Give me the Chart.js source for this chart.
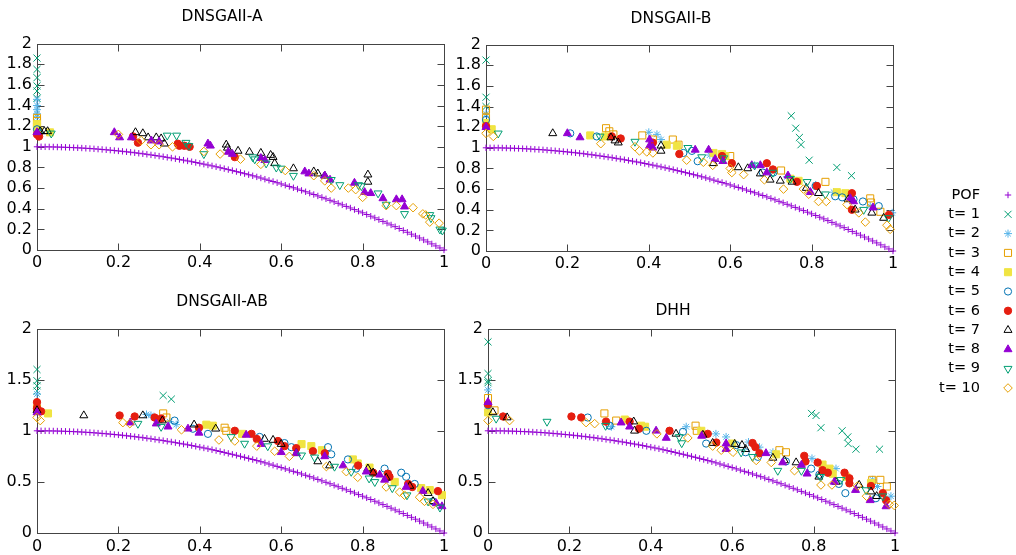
<!DOCTYPE html>
<html>
<head>
<meta charset="utf-8">
<script src="https://cdn.jsdelivr.net/npm/chart.js@4.4.1/dist/chart.umd.min.js"></script>
<style>
  body { margin: 0; background: #fff; width: 1016px; height: 555px; overflow: hidden; position: relative; }
  canvas { position: absolute; }
</style>
</head>
<body>
<canvas id="cA" width="481" height="275" style="left:0;top:0"></canvas>
<canvas id="cB" width="481" height="275" style="left:449px;top:0"></canvas>
<canvas id="cAB" width="481" height="270" style="left:0;top:285px"></canvas>
<canvas id="cDHH" width="481" height="270" style="left:451px;top:285px"></canvas>
<canvas id="cLeg" width="116" height="240" style="left:900px;top:170px"></canvas>
<script>
// ---------- data ----------
const SERIES_NAMES = ['POF', 't= 1', 't= 2', 't= 3', 't= 4', 't= 5', 't= 6', 't= 7', 't= 8', 't= 9', 't= 10'];
const X_TICKS = [0, 0.2, 0.4, 0.6, 0.8, 1];

// Pareto optimal front
const POF_X = [0,0.01,0.02,0.03,0.04,0.05,0.06,0.07,0.08,0.09,0.1,0.11,0.12,0.13,0.14,0.15,0.16,0.17,0.18,0.19,
  0.2,0.21,0.22,0.23,0.24,0.25,0.26,0.27,0.28,0.29,0.3,0.31,0.32,0.33,0.34,0.35,0.36,0.37,0.38,0.39,
  0.4,0.41,0.42,0.43,0.44,0.45,0.46,0.47,0.48,0.49,0.5,0.51,0.52,0.53,0.54,0.55,0.56,0.57,0.58,0.59,
  0.6,0.61,0.62,0.63,0.64,0.65,0.66,0.67,0.68,0.69,0.7,0.71,0.72,0.73,0.74,0.75,0.76,0.77,0.78,0.79,
  0.8,0.81,0.82,0.83,0.84,0.85,0.86,0.87,0.88,0.89,0.9,0.91,0.92,0.93,0.94,0.95,0.96,0.97,0.98,0.99,1];
const POF_Y = [1,0.9999,0.9996,0.9991,0.9984,0.9975,0.9964,0.9951,0.9936,0.9919,0.99,0.9879,0.9856,0.9831,0.9804,0.9775,0.9744,0.9711,0.9676,0.9639,
  0.96,0.9559,0.9516,0.9471,0.9424,0.9375,0.9324,0.9271,0.9216,0.9159,0.91,0.9039,0.8976,0.8911,0.8844,0.8775,0.8704,0.8631,0.8556,0.8479,
  0.84,0.8319,0.8236,0.8151,0.8064,0.7975,0.7884,0.7791,0.7696,0.7599,0.75,0.7399,0.7296,0.7191,0.7084,0.6975,0.6864,0.6751,0.6636,0.6519,
  0.64,0.6279,0.6156,0.6031,0.5904,0.5775,0.5644,0.5511,0.5376,0.5239,0.51,0.4959,0.4816,0.4671,0.4524,0.4375,0.4224,0.4071,0.3916,0.3759,
  0.36,0.3439,0.3276,0.3111,0.2944,0.2775,0.2604,0.2431,0.2256,0.2079,0.19,0.1719,0.1536,0.1351,0.1164,0.0975,0.0784,0.0591,0.0396,0.0199,0];

// DNSGAII-A
const A_t1 = [[0,1.86],[0,1.75],[0,1.67],[0,1.59],[0,1.54],[0,1.47],[0,1.19],[0,1.16]];
const A_t2 = [[0,1.46],[0,1.4],[0,1.36],[0,1.32],[0,1.29],[0.005,1.16]];
const A_t3 = [[0,1.28],[0,1.25],[0,1.22],[0,1.2]];
const A_t4 = [[0,1.22],[0,1.18],[0.005,1.15],[0.032,1.14]];
const A_t5 = [[0,1.17],[0.005,1.13]];
const A_t6 = [[0,1.12],[0.005,1.1],[0.236,1.1],[0.248,1.04],[0.346,1.03],[0.35,1.01],[0.362,1.01],[0.375,1.0],[0.486,0.9]];
const A_t7 = [[0.008,1.15],[0.018,1.15],[0.026,1.15],[0.242,1.14],[0.26,1.13],[0.273,1.09],[0.293,1.09],[0.305,1.08],[0.313,1.03],
  [0.465,1.02],[0.468,0.99],[0.494,0.96],[0.522,0.95],[0.55,0.94],[0.574,0.92],[0.58,0.9],[0.584,0.84],[0.63,0.79],[0.68,0.76],
  [0.69,0.74],[0.707,0.72],[0.813,0.73],[0.813,0.66]];
const A_t8 = [[0,1.14],[0.19,1.14],[0.203,1.09],[0.232,1.09],[0.281,1.06],[0.3,1.05],[0.42,1.03],[0.426,1.01],[0.47,0.95],[0.48,0.93],
  [0.55,0.89],[0.56,0.87],[0.658,0.76],[0.668,0.74],[0.707,0.72],[0.72,0.68],[0.78,0.65],[0.805,0.56],[0.82,0.55],[0.85,0.5],
  [0.883,0.49],[0.897,0.49],[0.903,0.42]];
const A_t9 = [[0.035,1.13],[0.32,1.11],[0.343,1.11],[0.366,1.04],[0.373,1.01],[0.41,0.93],[0.53,0.9],[0.535,0.88],[0.563,0.84],
  [0.588,0.8],[0.6,0.79],[0.63,0.72],[0.723,0.68],[0.744,0.63],[0.79,0.63],[0.797,0.62],[0.838,0.55],[0.858,0.44],[0.903,0.35],
  [0.965,0.34],[0.968,0.31],[0.99,0.2],[0.996,0.19]];
const A_t10 = [[0.2,1.12],[0.256,1.06],[0.28,1.02],[0.3,1.02],[0.333,1.0],[0.41,0.955],[0.45,0.93],[0.5,0.88],[0.55,0.83],[0.61,0.77],
  [0.68,0.72],[0.707,0.67],[0.723,0.6],[0.765,0.6],[0.783,0.585],[0.8,0.51],[0.858,0.43],[0.883,0.43],[0.924,0.41],[0.948,0.35],
  [0.955,0.34],[0.965,0.27],[0.988,0.26]];

// DNSGAII-B
const B_t1 = [[0,1.85],[0,1.49],[0,1.4],[0.75,1.31],[0.761,1.19],[0.77,1.1],[0.774,1.03],[0.794,0.88],[0.862,0.81],[0.898,0.73]];
const B_t2 = [[0,1.33],[0.4,1.15],[0.42,1.13],[0.43,1.08],[0.55,0.93],[0.66,0.83],[0.74,0.72],[0.81,0.64],[0.854,0.57],[0.944,0.435],[0.998,0.37]];
const B_t3 = [[0,1.37],[0,1.29],[0.295,1.19],[0.303,1.16],[0.313,1.13],[0.384,1.12],[0.41,1.08],[0.459,1.08],[0.473,1.03],[0.6,0.92],
  [0.725,0.78],[0.834,0.67],[0.944,0.51],[0.946,0.47],[0.969,0.38]];
const B_t4 = [[0,1.24],[0.014,1.18],[0.256,1.12],[0.293,1.11],[0.444,1.03],[0.469,1.02],[0.559,0.95],[0.58,0.94],[0.588,0.92],
  [0.748,0.7],[0.768,0.68],[0.862,0.57],[0.883,0.56]];
const B_t5 = [[0,1.27],[0.207,1.14],[0.272,1.11],[0.485,0.95],[0.506,0.97],[0.52,0.87],[0.68,0.76],[0.706,0.76],[0.81,0.63],
  [0.858,0.53],[0.875,0.52],[0.903,0.5],[0.926,0.48],[0.965,0.435]];
const B_t6 = [[0,1.21],[0.309,1.11],[0.331,1.09],[0.41,1.05],[0.475,0.94],[0.58,0.92],[0.604,0.85],[0.69,0.85],[0.705,0.79],
  [0.764,0.67],[0.813,0.63],[0.899,0.56],[0.899,0.4],[0.99,0.35]];
const B_t7 = [[0.164,1.14],[0.307,1.1],[0.317,1.07],[0.325,1.05],[0.43,1.02],[0.43,0.97],[0.559,0.85],[0.62,0.81],[0.643,0.8],
  [0.674,0.75],[0.698,0.69],[0.723,0.68],[0.752,0.67],[0.787,0.61],[0.817,0.56],[0.89,0.5],[0.907,0.4],[0.948,0.37],[0.977,0.32]];
const B_t8 = [[0,1.2],[0.2,1.14],[0.231,1.1],[0.402,1.08],[0.402,1.02],[0.41,1.0],[0.514,0.98],[0.547,0.98],[0.563,0.89],[0.582,0.87],
  [0.653,0.83],[0.674,0.83],[0.69,0.76],[0.742,0.73],[0.797,0.57],[0.895,0.51],[0.903,0.48],[0.951,0.42]];
const B_t9 = [[0.03,1.14],[0.28,1.11],[0.366,1.06],[0.496,1.0],[0.53,0.91],[0.584,0.9],[0.66,0.83],[0.705,0.76],[0.748,0.7],
  [0.789,0.67],[0.834,0.55],[0.928,0.4],[0.989,0.32]];
const B_t10 = [[0,1.14],[0.018,1.11],[0.282,1.04],[0.366,1.01],[0.377,0.97],[0.395,0.96],[0.41,0.95],[0.493,0.88],[0.534,0.86],
  [0.557,0.83],[0.6,0.8],[0.604,0.76],[0.633,0.74],[0.684,0.69],[0.731,0.6],[0.78,0.6],[0.793,0.55],[0.817,0.48],[0.836,0.48],
  [0.887,0.45],[0.916,0.37],[0.932,0.28],[0.985,0.25],[0.993,0.21]];

// DNSGAII-AB
const AB_t1 = [[0,1.6],[0,1.49],[0,1.44],[0,1.39],[0.31,1.345],[0.33,1.31]];
const AB_t2 = [[0,1.36],[0.269,1.16],[0.28,1.15],[0.326,1.09],[0.342,1.06]];
const AB_t3 = [[0,1.22],[0.31,1.17],[0.318,1.13],[0.461,1.03],[0.465,1.0]];
const AB_t4 = [[0.027,1.17],[0.416,1.06],[0.432,1.05],[0.504,0.97],[0.65,0.87],[0.674,0.85],[0.7,0.81],[0.776,0.72],[0.788,0.68],
  [0.817,0.64],[0.879,0.5],[0.944,0.44],[0.965,0.42],[0.995,0.37]];
const AB_t5 = [[0.338,1.1],[0.383,1.02],[0.42,0.97],[0.547,0.94],[0.608,0.88],[0.625,0.84],[0.715,0.84],[0.723,0.77],[0.764,0.72],
  [0.784,0.63],[0.854,0.63],[0.862,0.58],[0.895,0.59],[0.907,0.55],[0.928,0.48],[0.973,0.31]];
const AB_t6 = [[0,1.28],[0,1.22],[0.01,1.19],[0.203,1.15],[0.24,1.14],[0.289,1.13],[0.305,1.12],[0.398,1.03],[0.486,1.0],[0.527,0.97],
  [0.54,0.92],[0.592,0.9],[0.608,0.85],[0.637,0.83],[0.678,0.8],[0.707,0.78],[0.789,0.66],[0.826,0.59],[0.862,0.58],[0.866,0.55],
  [0.912,0.48],[0.922,0.45],[0.985,0.41]];
const AB_t7 = [[0,1.2],[0.115,1.15],[0.26,1.15],[0.308,1.1],[0.386,1.06],[0.439,1.02],[0.559,0.92],[0.58,0.91],[0.6,0.87],[0.637,0.78],
  [0.69,0.7],[0.719,0.66],[0.813,0.63],[0.826,0.59],[0.858,0.54],[0.916,0.46],[0.961,0.39],[0.973,0.31]];
const AB_t8 = [[0,1.18],[0.229,1.08],[0.293,1.07],[0.322,1.04],[0.371,1.02],[0.398,0.98],[0.514,0.96],[0.551,0.87],[0.6,0.79],
  [0.637,0.78],[0.707,0.75],[0.752,0.66],[0.809,0.6],[0.842,0.57],[0.854,0.52],[0.907,0.45],[0.948,0.41],[0.981,0.29],[0.995,0.26]];
const AB_t9 = [[0.248,1.07],[0.305,1.04],[0.477,0.94],[0.51,0.875],[0.567,0.85],[0.65,0.76],[0.682,0.74],[0.731,0.65],[0.772,0.6],
  [0.816,0.535],[0.83,0.5],[0.873,0.44],[0.909,0.37],[0.961,0.31],[0.99,0.25]];
const AB_t10 = [[0,1.13],[0.008,1.1],[0.211,1.08],[0.228,1.07],[0.355,1.01],[0.447,0.91],[0.486,0.9],[0.54,0.85],[0.584,0.8],
  [0.62,0.75],[0.711,0.65],[0.76,0.6],[0.788,0.545],[0.858,0.45],[0.891,0.4],[0.903,0.37],[0.94,0.35],[0.952,0.31],[0.973,0.28]];

// DHH
const D_t1 = [[0,1.87],[0,1.56],[0,1.49],[0,1.47],[0.795,1.17],[0.806,1.15],[0.818,1.03],[0.87,1.0],[0.884,0.94],[0.885,0.875],
  [0.904,0.82],[0.962,0.82]];
const D_t2 = [[0,1.4],[0.303,1.04],[0.487,1.04],[0.54,0.97],[0.56,0.97],[0.585,0.94],[0.64,0.89],[0.667,0.84],[0.7,0.79],[0.796,0.73],
  [0.855,0.63],[0.945,0.52],[0.957,0.455],[0.99,0.36]];
const D_t3 = [[0,1.32],[0.016,1.2],[0.286,1.17],[0.315,1.1],[0.51,1.05],[0.513,1.0],[0.716,0.81],[0.732,0.79],[0.944,0.52],
  [0.964,0.52],[0.98,0.455]];
const D_t4 = [[0,1.18],[0.336,1.11],[0.376,1.05],[0.386,1.04],[0.524,1.0],[0.6,0.875],[0.708,0.77],[0.822,0.67],[0.839,0.63],
  [0.847,0.58],[0.88,0.55],[0.941,0.49]];
const D_t5 = [[0,1.25],[0.245,1.13],[0.299,1.05],[0.389,1.0],[0.479,0.99],[0.536,0.875],[0.61,0.86],[0.633,0.79],[0.663,0.745],
  [0.732,0.7],[0.794,0.63],[0.814,0.57],[0.862,0.48],[0.878,0.39],[0.953,0.34]];
const D_t6 = [[0,1.26],[0.037,1.14],[0.205,1.14],[0.229,1.13],[0.29,1.09],[0.348,1.09],[0.371,1.02],[0.446,1.0],[0.54,0.97],
  [0.561,0.885],[0.65,0.88],[0.657,0.84],[0.667,0.78],[0.777,0.755],[0.78,0.7],[0.81,0.69],[0.822,0.615],[0.835,0.59],[0.876,0.59],
  [0.888,0.535],[0.888,0.486],[0.941,0.46],[0.97,0.39],[0.978,0.32]];
const D_t7 = [[0.012,1.18],[0.047,1.13],[0.358,1.09],[0.36,1.0],[0.462,0.97],[0.528,0.96],[0.552,0.88],[0.606,0.87],[0.624,0.86],
  [0.633,0.82],[0.7,0.735],[0.728,0.71],[0.757,0.69],[0.813,0.55],[0.855,0.5],[0.912,0.47],[0.941,0.405],[0.955,0.36]];
const D_t8 = [[0,1.28],[0.327,1.08],[0.348,1.04],[0.413,1.0],[0.438,0.93],[0.525,0.95],[0.585,0.875],[0.585,0.82],[0.683,0.78],
  [0.724,0.69],[0.77,0.665],[0.784,0.58],[0.851,0.5],[0.903,0.42],[0.939,0.32],[0.978,0.26]];
const D_t9 = [[0.02,1.12],[0.145,1.09],[0.289,1.05],[0.47,0.94],[0.476,0.88],[0.622,0.79],[0.65,0.745],[0.712,0.61],[0.77,0.61],
  [0.817,0.55],[0.867,0.52],[0.929,0.42],[0.97,0.36]];
const D_t10 = [[0,1.1],[0.053,1.1],[0.241,1.08],[0.262,1.07],[0.415,0.97],[0.491,0.93],[0.552,0.85],[0.573,0.81],[0.602,0.79],
  [0.659,0.71],[0.696,0.69],[0.753,0.61],[0.818,0.47],[0.845,0.47],[0.908,0.46],[0.93,0.36],[0.986,0.28],[0.998,0.27]];

// ---------- styles ----------
const COLORS = ['#9400D3', '#009E73', '#56B4E9', '#E69F00', '#F0E442', '#0072B2', '#E51E10', '#000000', '#9400D3', '#009E73', '#E69F00'];
const MARKERS = [
  { style: 'cross', r: 3.2, fill: false },
  { style: 'crossRot', r: 5, fill: false },
  { style: 'star', r: 4, fill: false },
  { style: 'rect', r: 5, fill: false },
  { style: 'rect', r: 5, fill: true },
  { style: 'circle', r: 3.6, fill: false },
  { style: 'circle', r: 3.7, fill: true },
  { style: 'triangle', r: 4.6, fill: false },
  { style: 'triangle', r: 4.6, fill: true },
  { style: 'triangle', r: 4.6, fill: false, rot: 180 },
  { style: 'rectRot', r: 4.3, fill: false }
];
const FONT = '"DejaVu Sans", Verdana, sans-serif';

Chart.defaults.font.family = FONT;
Chart.defaults.font.size = 16;
Chart.defaults.color = '#000';

function pts(list) {
  return list.map(p => ({ x: p[0], y: p[1] }));
}

function tickText(v) {
  return String(Number(Number(v).toFixed(2)));
}

function buildDatasets(series) {
  return series.map((data, i) => {
    const m = MARKERS[i];
    return {
      label: SERIES_NAMES[i],
      data: data,
      showLine: false,
      clip: false,
      order: series.length - i,
      pointStyle: m.style,
      pointRadius: m.r,
      pointHoverRadius: m.r,
      pointRotation: m.rot || 0,
      pointBorderWidth: 1,
      pointBorderColor: COLORS[i],
      pointBackgroundColor: m.fill ? COLORS[i] : 'rgba(0,0,0,0)',
      borderColor: COLORS[i],
      backgroundColor: m.fill ? COLORS[i] : 'rgba(0,0,0,0)'
    };
  });
}

// gnuplot style border with inward ticks on all four sides
const framePlugin = {
  id: 'frame',
  beforeDatasetsDraw(chart) {
    const { ctx, chartArea: a, scales } = chart;
    const L = 7;
    const l = Math.round(a.left) + 0.5, r = Math.round(a.right) + 0.5;
    const t = Math.round(a.top) + 0.5, b = Math.round(a.bottom) + 0.5;
    ctx.save();
    ctx.strokeStyle = '#444';
    ctx.lineWidth = 1;
    ctx.strokeRect(l, t, r - l, b - t);
    ctx.beginPath();
    scales.x.ticks.forEach(tk => {
      const px = Math.round(scales.x.getPixelForValue(tk.value)) + 0.5;
      ctx.moveTo(px, b); ctx.lineTo(px, b - L);
      ctx.moveTo(px, t); ctx.lineTo(px, t + L);
    });
    scales.y.ticks.forEach(tk => {
      const py = Math.round(scales.y.getPixelForValue(tk.value)) + 0.5;
      ctx.moveTo(l, py); ctx.lineTo(l + L, py);
      ctx.moveTo(r, py); ctx.lineTo(r - L, py);
    });
    ctx.stroke();
    ctx.restore();
  }
};

function makePlot(id, title, series, yStep, titleTop, titleBottom, xAxisH, xPad) {
  const datasets = buildDatasets(series);
  return new Chart(document.getElementById(id), {
    type: 'scatter',
    data: { datasets },
    options: {
      responsive: false,
      animation: false,
      events: [],
      layout: { padding: { left: 0, right: 37, top: 0, bottom: 0 } },
      plugins: {
        legend: { display: false },
        tooltip: { enabled: false },
        title: {
          display: true,
          text: title,
          font: { size: 15.5, weight: 'normal' },
          color: '#000',
          padding: { top: titleTop, bottom: titleBottom }
        }
      },
      scales: {
        x: {
          type: 'linear',
          min: 0, max: 1,
          afterBuildTicks: s => { s.ticks = X_TICKS.map(v => ({ value: v })); },
          grid: { display: false, drawTicks: false },
          border: { display: false },
          ticks: { padding: xPad, autoSkip: false, maxRotation: 0, callback: tickText },
          afterFit: s => { s.height = xAxisH; }
        },
        y: {
          type: 'linear',
          min: 0, max: 2,
          grid: { display: false, drawTicks: false },
          border: { display: false },
          ticks: { stepSize: yStep, padding: 5, autoSkip: false, callback: tickText },
          afterFit: s => { s.width = 37; }
        }
      }
    },
    plugins: [framePlugin]
  });
}

makePlot('cA', 'DNSGAII-A',
  [pts(POF_X.map((x, i) => [x, POF_Y[i]])), pts(A_t1), pts(A_t2), pts(A_t3), pts(A_t4), pts(A_t5), pts(A_t6), pts(A_t7), pts(A_t8), pts(A_t9), pts(A_t10)],
  0.2, 8, 17, 25, 3);
makePlot('cB', 'DNSGAII-B',
  [pts(POF_X.map((x, i) => [x, POF_Y[i]])), pts(B_t1), pts(B_t2), pts(B_t3), pts(B_t4), pts(B_t5), pts(B_t6), pts(B_t7), pts(B_t8), pts(B_t9), pts(B_t10)],
  0.2, 10, 16, 24, 3);
makePlot('cAB', 'DNSGAII-AB',
  [pts(POF_X.map((x, i) => [x, POF_Y[i]])), pts(AB_t1), pts(AB_t2), pts(AB_t3), pts(AB_t4), pts(AB_t5), pts(AB_t6), pts(AB_t7), pts(AB_t8), pts(AB_t9), pts(AB_t10)],
  0.5, 8, 17, 22, 4);
makePlot('cDHH', 'DHH',
  [pts(POF_X.map((x, i) => [x, POF_Y[i]])), pts(D_t1), pts(D_t2), pts(D_t3), pts(D_t4), pts(D_t5), pts(D_t6), pts(D_t7), pts(D_t8), pts(D_t9), pts(D_t10)],
  0.5, 17, 8, 22, 4);

// shared key on the right: text right-aligned, marker to its right
const keyPlugin = {
  id: 'key',
  afterDraw(chart) {
    const ctx = chart.ctx;
    ctx.save();
    ctx.font = '14.5px ' + FONT;
    ctx.textAlign = 'right';
    ctx.textBaseline = 'middle';
    chart.data.datasets.forEach((ds, i) => {
      const y = 25 + i * 19.3;
      ctx.fillStyle = '#000';
      ctx.fillText(ds.label, 80, y);
      const el = new Chart.PointElement({
        x: 108, y: y,
        options: {
          pointStyle: ds.pointStyle,
          radius: ds.pointRadius,
          rotation: ds.pointRotation,
          borderWidth: 1,
          borderColor: ds.pointBorderColor,
          backgroundColor: ds.pointBackgroundColor
        }
      });
      el.draw(ctx);
    });
    ctx.restore();
  }
};

new Chart(document.getElementById('cLeg'), {
  type: 'scatter',
  data: { datasets: buildDatasets(SERIES_NAMES.map(() => [])) },
  options: {
    responsive: false,
    animation: false,
    events: [],
    plugins: { legend: { display: false }, tooltip: { enabled: false } },
    scales: { x: { display: false }, y: { display: false } }
  },
  plugins: [keyPlugin]
});
</script>
</body>
</html>
